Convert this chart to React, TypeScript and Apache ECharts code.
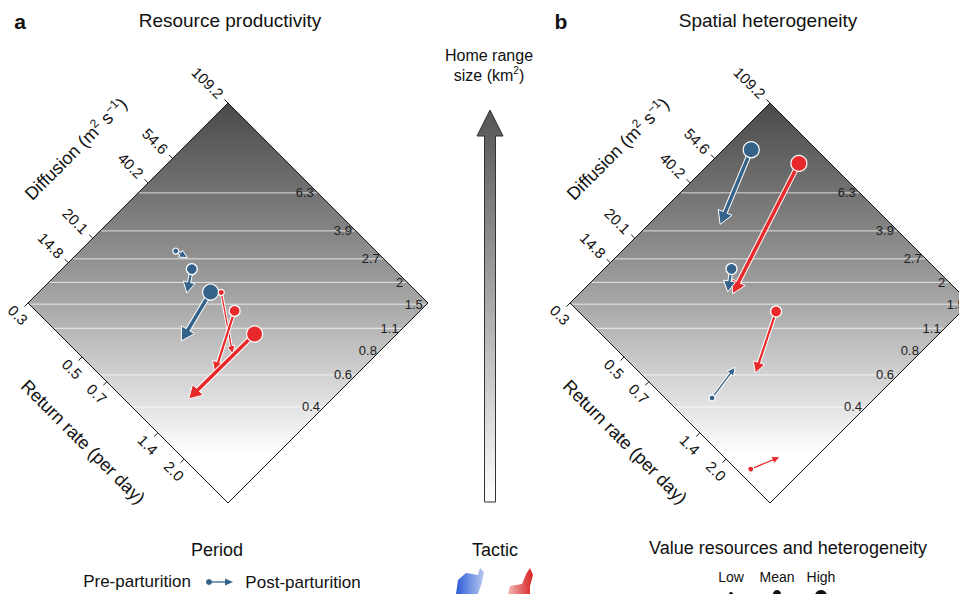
import { useEffect, useRef } from "react";
import * as echarts from "echarts";

// axis ranges (diffusion m2/s, return rate per day), both log scale
const diffRange = [8.94, 109.2];
const returnRange = [0.24, 3.63];
const diffTicks = [14.8, 20.1, 40.2, 54.6, 109.2];
const returnTickValues = [0.24, 0.5, 0.7, 1.4, 2.0];
const returnTickLabels = ["0.3", "0.5", "0.7", "1.4", "2.0"];

// home range contours: label and where each crosses the centre diagonal
const contourLabels = ["6.3", "3.9", "2.7", "2", "1.5", "1.1", "0.8", "0.6", "0.4"];
const contourDiff = [62.0, 48.9, 41.1, 35.5, 31.0, 26.7, 23.2, 19.9, 16.3];
const contourReturn = [0.44, 0.57, 0.69, 0.81, 0.94, 1.11, 1.28, 1.52, 1.89];
const contourLineShown = [true, true, true, true, true, true, false, true, true];

// [tactic, level, diff0, return0, diff1, return1]
type Arrow = ["blue" | "red", "low" | "mean" | "high", number, number, number, number];
const resourceArrows: Arrow[] = [
  ["blue", "low", 31.2, 0.46, 32.2, 0.52],
  ["blue", "mean", 30.8, 0.58, 25.7, 0.66],
  ["blue", "high", 30.0, 0.77, 18.4, 0.88],
  ["red", "low", 32.0, 0.83, 23.4, 1.36],
  ["red", "mean", 31.0, 1.03, 18.6, 1.37],
  ["red", "high", 30.4, 1.38, 13.4, 1.37],
];
const heterogeneityArrows: Arrow[] = [
  ["blue", "high", 72.5, 0.29, 37.4, 0.39],
  ["red", "high", 89.7, 0.44, 26.2, 0.68],
  ["blue", "mean", 30.4, 0.57, 25.7, 0.65],
  ["red", "mean", 30.8, 1.03, 18.4, 1.36],
  ["blue", "low", 12.0, 1.2, 16.8, 1.14],
  ["red", "low", 9.8, 2.53, 12.7, 2.84],
];

const COLORS = { blue: "#346289", red: "#e8292b" };
const SIZES = {
  low: { r: 3, lw: 1.3, L: 8, W: 4 },
  mean: { r: 5.5, lw: 2.2, L: 11, W: 6 },
  high: { r: 8, lw: 3.5, L: 13, W: 7.5 },
};
const FONT = "Liberation Sans";

function makeRender(arrows: Arrow[]) {
  return (_params: any, api: any) => {
    const p0 = api.coord([diffRange[0], returnRange[0]]);
    const p1 = api.coord([diffRange[1], returnRange[1]]);
    const cx = (p0[0] + p1[0]) / 2;
    const cy = (p0[1] + p1[1]) / 2;
    const S = Math.SQRT1_2;
    const rot = (p: number[]) => {
      const dx = p[0] - cx, dy = p[1] - cy;
      return [cx + (dx + dy) * S, cy + (-dx + dy) * S];
    };
    const P = (d: number, r: number) => rot(api.coord([d, r]));
    const top = P(diffRange[1], returnRange[0]);
    const left = P(diffRange[0], returnRange[0]);
    const bottom = P(diffRange[0], returnRange[1]);
    const right = P(diffRange[1], returnRange[1]);
    const half = cy - top[1];
    const kids: any[] = [];

    kids.push({
      type: "polygon",
      shape: { points: [top, right, bottom, left] },
      style: {
        fill: new echarts.graphic.LinearGradient(0, 0, 0, 1, [
          { offset: 0, color: "#4a4a4a" },
          { offset: 0.45, color: "#9c9c9c" },
          { offset: 0.88, color: "#ffffff" },
          { offset: 1, color: "#ffffff" },
        ]),
        stroke: "#111",
        lineWidth: 1,
      },
    });

    contourLabels.forEach((lab, i) => {
      const y = P(contourDiff[i], contourReturn[i])[1];
      const w = half - Math.abs(y - cy);
      if (contourLineShown[i]) {
        kids.push({
          type: "line",
          shape: { x1: cx - w + 1, y1: y, x2: cx + w - 1, y2: y },
          style: { stroke: "rgba(255,255,255,0.75)", lineWidth: 1 },
        });
      }
      kids.push({
        type: "text",
        x: cx + w - 4,
        y: y,
        style: { text: lab, fill: "#222", fontSize: 13, fontFamily: FONT, align: "right", verticalAlign: "middle" },
      });
    });

    const tl = 5;
    diffTicks.forEach((d) => {
      const p = P(d, returnRange[0]);
      kids.push({
        type: "line",
        shape: { x1: p[0], y1: p[1], x2: p[0] - tl * S, y2: p[1] - tl * S },
        style: { stroke: "#111", lineWidth: 1 },
      });
      kids.push({
        type: "text",
        x: p[0] - 7,
        y: p[1] - 7,
        rotation: -Math.PI / 4,
        style: { text: String(d), fill: "#111", fontSize: 15, fontFamily: FONT, align: "right", verticalAlign: "middle" },
      });
    });
    returnTickValues.forEach((r, i) => {
      const p = P(diffRange[0], r);
      kids.push({
        type: "line",
        shape: { x1: p[0], y1: p[1], x2: p[0] - tl * S, y2: p[1] + tl * S },
        style: { stroke: "#111", lineWidth: 1 },
      });
      kids.push({
        type: "text",
        x: p[0] - 10,
        y: p[1] + 12,
        rotation: -Math.PI / 4,
        style: { text: returnTickLabels[i], fill: "#111", fontSize: 15, fontFamily: FONT, align: "center", verticalAlign: "middle" },
      });
    });

    // axis titles
    const ulMid = [(left[0] + top[0]) / 2, (left[1] + top[1]) / 2];
    kids.push({
      type: "text",
      x: ulMid[0] - 52,
      y: ulMid[1] - 54,
      rotation: Math.PI / 4,
      style: {
        text: "{n|Diffusion (m}{s|2}{n| s}{s|−1}{n|)}",
        align: "center",
        verticalAlign: "middle",
        rich: {
          n: { fontSize: 18, fontFamily: FONT, fill: "#111" },
          s: { fontSize: 12, fontFamily: FONT, fill: "#111", padding: [0, 0, 10, 0] },
        },
      },
    });
    const llMid = [(left[0] + bottom[0]) / 2, (left[1] + bottom[1]) / 2];
    kids.push({
      type: "text",
      x: llMid[0] - 45,
      y: llMid[1] + 39,
      rotation: -Math.PI / 4,
      style: { text: "Return rate (per day)", fill: "#111", fontSize: 18, fontFamily: FONT, align: "center", verticalAlign: "middle" },
    });

    arrows.forEach(([tac, lvl, d0, r0, d1, r1]) => {
      const s = P(d0, r0);
      const e = P(d1, r1);
      const c = COLORS[tac];
      const z = SIZES[lvl];
      const len = Math.hypot(e[0] - s[0], e[1] - s[1]) || 1;
      const ux = (e[0] - s[0]) / len, uy = (e[1] - s[1]) / len;
      const b = [e[0] - ux * z.L, e[1] - uy * z.L];
      const px = -uy, py = ux;
      kids.push({
        type: "line",
        shape: { x1: s[0], y1: s[1], x2: b[0] + ux, y2: b[1] + uy },
        style: { stroke: "#fff", lineWidth: z.lw + 2 },
      });
      kids.push({
        type: "polygon",
        shape: { points: [e, [b[0] + px * z.W, b[1] + py * z.W], [b[0] - px * z.W, b[1] - py * z.W]] },
        style: { fill: c, stroke: "#fff", lineWidth: 1 },
      });
      kids.push({
        type: "line",
        shape: { x1: s[0], y1: s[1], x2: b[0] + ux, y2: b[1] + uy },
        style: { stroke: c, lineWidth: z.lw },
      });
      kids.push({
        type: "circle",
        shape: { cx: s[0], cy: s[1], r: z.r },
        style: { fill: c, stroke: "#fff", lineWidth: 1.2 },
      });
    });

    return { type: "group", children: kids };
  };
}

export default function App() {
  const ref = useRef<HTMLDivElement | null>(null);

  useEffect(() => {
    const el = ref.current!;
    const chart = echarts.init(el, undefined, { renderer: "svg" });
    const side = 282.8;
    const axisBase = { show: false, type: "log" as const, logBase: Math.E };
    const txt = (x: number, y: number, text: string, extra: any = {}) => ({
      type: "text",
      x,
      y,
      style: { text, fill: "#111", fontSize: 18, fontFamily: FONT, align: "center", verticalAlign: "middle", ...extra },
    });
    chart.setOption({
      animation: false,
      grid: [
        { left: 228 - side / 2, top: 303 - side / 2, width: side, height: side },
        { left: 770 - side / 2, top: 303 - side / 2, width: side, height: side },
      ],
      xAxis: [0, 1].map((i) => ({ ...axisBase, gridIndex: i, min: diffRange[0], max: diffRange[1] })),
      yAxis: [0, 1].map((i) => ({ ...axisBase, gridIndex: i, min: returnRange[0], max: returnRange[1], inverse: true })),
      series: [
        { type: "custom", xAxisIndex: 0, yAxisIndex: 0, silent: true, data: [[diffRange[0], returnRange[0]]], renderItem: makeRender(resourceArrows) },
        { type: "custom", xAxisIndex: 1, yAxisIndex: 1, silent: true, data: [[diffRange[0], returnRange[0]]], renderItem: makeRender(heterogeneityArrows) },
      ],
      graphic: [
        txt(20, 21, "a", { fontWeight: "bold", fontSize: 21 }),
        txt(230, 20, "Resource productivity", { fontSize: 19 }),
        txt(561, 21, "b", { fontWeight: "bold", fontSize: 21 }),
        txt(768, 20, "Spatial heterogeneity", { fontSize: 19 }),
        txt(489, 55, "Home range", { fontSize: 16 }),
        {
          type: "text",
          x: 489,
          y: 75,
          style: {
            text: "{n|size (km}{s|2}{n|)}",
            align: "center",
            verticalAlign: "middle",
            rich: {
              n: { fontSize: 16, fontFamily: FONT, fill: "#111" },
              s: { fontSize: 10, fontFamily: FONT, fill: "#111", padding: [0, 0, 9, 0] },
            },
          },
        },
        {
          type: "polygon",
          shape: {
            points: [
              [490, 110], [503, 136], [495.5, 136], [495.5, 502],
              [484.5, 502], [484.5, 136], [477, 136],
            ],
          },
          style: {
            fill: new echarts.graphic.LinearGradient(0, 0, 0, 1, [
              { offset: 0, color: "#555" },
              { offset: 1, color: "#fff" },
            ]),
            stroke: "#333",
            lineWidth: 1,
          },
        },
        txt(217, 550, "Period"),
        txt(137, 581, "Pre-parturition", { fontSize: 17 }),
        { type: "circle", shape: { cx: 209, cy: 582, r: 3 }, style: { fill: "#346289" } },
        { type: "line", shape: { x1: 209, y1: 582, x2: 226, y2: 582 }, style: { stroke: "#346289", lineWidth: 1.3 } },
        { type: "polygon", shape: { points: [[233, 582], [225, 578.5], [225, 585.5]] }, style: { fill: "#346289" } },
        txt(303, 582, "Post-parturition", { fontSize: 17 }),
        txt(495, 550, "Tactic"),
        {
          type: "polygon",
          shape: { points: [[456, 594], [458, 580], [466, 573], [478, 575], [480, 568], [484, 572], [482, 582], [478, 594]] },
          style: { fill: new echarts.graphic.LinearGradient(0, 0, 1, 0, [{ offset: 0, color: "#2a5bd7" }, { offset: 1, color: "#b9c9f0" }]) },
        },
        {
          type: "polygon",
          shape: { points: [[508, 594], [510, 586], [522, 584], [526, 574], [530, 568], [533, 575], [530, 586], [530, 594]] },
          style: { fill: new echarts.graphic.LinearGradient(0, 0, 1, 0, [{ offset: 0, color: "#f2b6b6" }, { offset: 1, color: "#d92020" }]) },
        },
        txt(788, 548, "Value resources and heterogeneity", { fontSize: 18 }),
        txt(731, 577, "Low", { fontSize: 14 }),
        txt(777, 577, "Mean", { fontSize: 14 }),
        txt(821, 577, "High", { fontSize: 14 }),
        { type: "circle", shape: { cx: 731, cy: 594, r: 2 }, style: { fill: "#111" } },
        { type: "circle", shape: { cx: 777, cy: 594, r: 4 }, style: { fill: "#111" } },
        { type: "circle", shape: { cx: 821, cy: 596, r: 6 }, style: { fill: "#111" } },
      ],
    });
    return () => chart.dispose();
  }, []);

  return <div ref={ref} style={{ position: "absolute", left: 0, top: 0, width: 959, height: 594 }} />;
}
